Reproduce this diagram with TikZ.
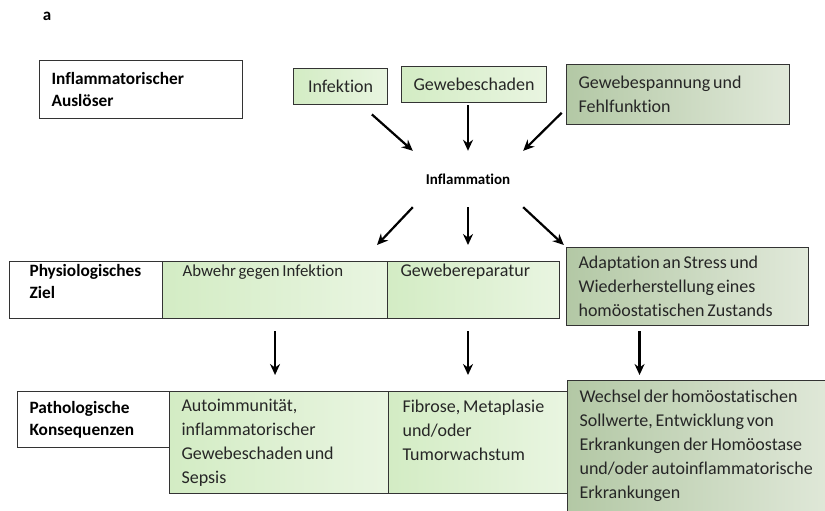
\documentclass[tikz,border=0pt]{standalone}
\usepackage{fontspec}
\setmainfont{Carlito}[Ligatures=NoCommon]
\usetikzlibrary{arrows.meta}

\definecolor{hellA}{HTML}{D3ECC4}
\definecolor{hellB}{HTML}{E9F5E1}
\definecolor{dunkelA}{HTML}{B3C8A5}
\definecolor{dunkelB}{HTML}{E1E9DA}
\newcommand{\engabstand}{\spaceskip=0.16em\relax}

\begin{document}
\begin{tikzpicture}[x=1pt,y=-1pt,
  box/.style={draw=black!80, line width=1.1pt, anchor=north west, inner ysep=0pt,
    align=left, text=black!85, font=\fontsize{18}{24}\selectfont,
    execute at begin node=\engabstand},
  hell/.style={box, left color=hellA, right color=hellB},
  dunkel/.style={box, left color=dunkelA, right color=dunkelB},
  rubrik/.style={box, fill=white, text=black, font=\bfseries\fontsize{17.3}{22}\selectfont},
  arr/.style={line width=2.2pt, -{Stealth[length=11pt,width=10pt]}}]

\path[fill=white] (0,0) rectangle (825,511);
\useasboundingbox (0,0) rectangle (825,511);
\clip (0,0) rectangle (825,511);

\node[font=\bfseries\fontsize{17}{20}\selectfont] (panel) at (47,16) {a};

% Ausloeser
\node[rubrik, minimum width=203pt, minimum height=58pt, text width=179pt, inner xsep=12pt] (ausloeser) at (39,60) {Inflammatorischer\\Auslöser};
\node[hell, minimum width=94pt, minimum height=36pt] (infektion) at (293,68) {Infektion};
\node[hell, minimum width=145pt, minimum height=36pt] (schaden) at (401,66) {Gewebeschaden};
\node[dunkel, minimum width=223pt, minimum height=60pt, text width=199pt, inner xsep=12pt] (spannung) at (566,64) {Gewebespannung und\\Fehlfunktion};

\node[font=\bfseries\fontsize{15}{17}\selectfont, minimum width=110pt, minimum height=56pt, inner sep=0pt] (inflam) at (468,179) {Inflammation};

% Ziel
\node[rubrik, minimum width=153pt, minimum height=57pt, text width=113pt, inner xsep=20pt, inner ysep=3pt, text height=12pt, text depth=39pt] (ziel) at (9,261) {Physiologisches\\Ziel};
\node[hell, minimum width=225pt, minimum height=57pt, text width=185pt, inner xsep=20pt, inner ysep=2pt, text height=13pt, text depth=40pt, font=\fontsize{16.8}{24}\selectfont] (abwehr) at (162,261) {Abwehr gegen Infektion};
\node[hell, minimum width=172pt, minimum height=57pt, text width=146pt, inner xsep=13pt, inner ysep=2pt, text height=13pt, text depth=40pt] (reparatur) at (387,261) {Gewebereparatur};
\node[dunkel, minimum width=242pt, minimum height=78pt, text width=218pt, inner xsep=12pt] (adaptation) at (566,247) {Adaptation an Stress und\\Wiederherstellung eines\\homöostatischen Zustands};

% Konsequenzen
\node[rubrik, minimum width=152pt, minimum height=56pt, text width=128pt, inner xsep=12pt] (konseq) at (17,391) {Pathologische\\Konsequenzen};
\node[hell, minimum width=219pt, minimum height=102pt, text width=195pt, inner xsep=12pt] (autoimm) at (169,391) {Autoimmunität,\\inflammatorischer\\Gewebeschaden und\\Sepsis};
\node[hell, minimum width=179pt, minimum height=102pt, text width=151pt, inner xsep=14pt, inner ysep=8pt, text height=13pt, text depth=73pt] (fibrose) at (388,391) {Fibrose, Metaplasie\\und/oder\\Tumorwachstum};
\node[dunkel, minimum width=270pt, minimum height=140pt, text width=246pt, inner xsep=12pt, inner ysep=9pt, text height=13pt, text depth=109pt] (wechsel) at (567,380) {Wechsel der homöostatischen\\Sollwerte, Entwicklung von\\Erkrankungen der Homöostase\\und/oder autoinflammatorische\\Erkrankungen};

\coordinate (zielpfeil) at (377,245);

\path[draw,arr,shorten <=14pt] (infektion) -- (inflam.north west);
\path[draw,arr,shorten <=2pt] (schaden.south -| inflam.north) -- (inflam.north);
\path[draw,arr,shorten <=6pt] ([yshift=-14pt]spannung.west) -- (inflam.north east);

\path[draw,arr] (inflam.south west) -- (zielpfeil);
\path[draw,arr,shorten >=16pt] (inflam.south) -- (inflam.south |- reparatur.north);
\path[draw,arr,shorten >=3pt] (inflam.south east) -- (adaptation.north west);

\path[draw,arr,shorten <=12pt,shorten >=16pt] (abwehr.south) -- (abwehr.south |- autoimm.north);
\path[draw,arr,shorten <=12pt,shorten >=16pt] (reparatur.south -| inflam) -- (fibrose.north -| inflam);
\path[draw,arr,shorten <=5pt,shorten >=5pt] ([xshift=-48pt]adaptation.south) -- ([xshift=-48pt]adaptation.south |- wechsel.north);
\end{tikzpicture}
\end{document}
